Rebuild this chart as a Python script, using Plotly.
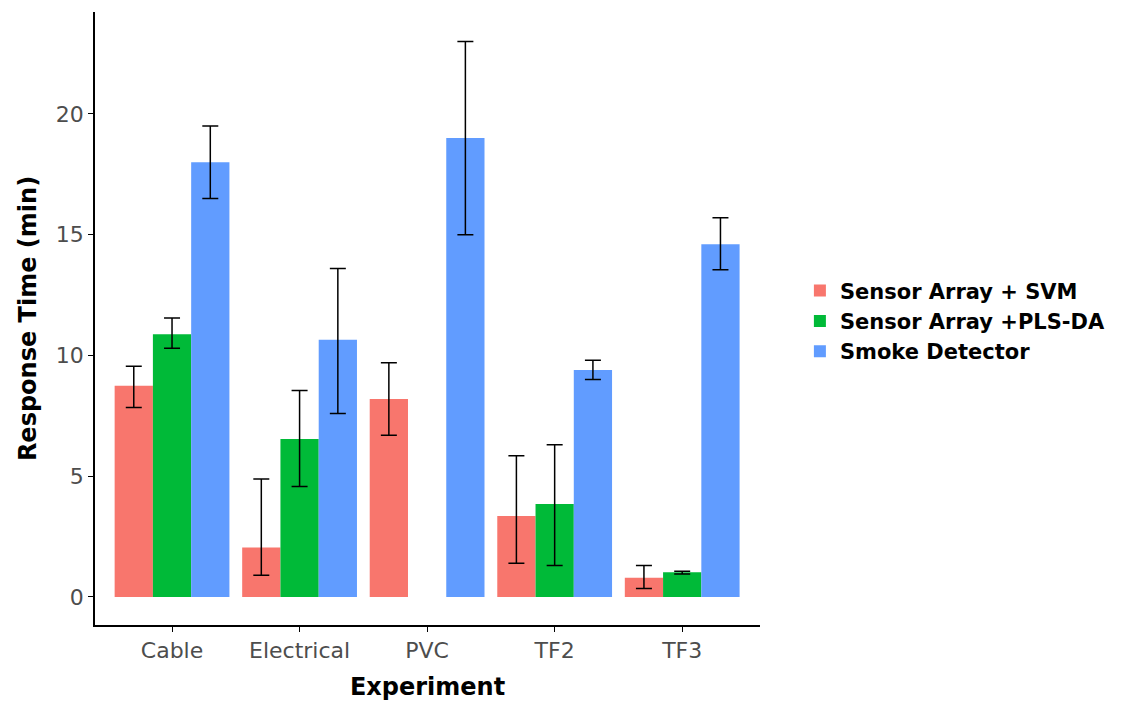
import plotly.graph_objects as go

categories = ["Cable", "Electrical", "PVC", "TF2", "TF3"]

svm_mean = [8.75, 2.05, 8.2, 3.35, 0.8]
svm_lo = [7.85, 0.9, 6.7, 1.4, 0.35]
svm_hi = [9.55, 4.88, 9.7, 5.85, 1.3]

pls_mean = [10.88, 6.54, None, 3.85, 1.02]
pls_lo = [10.3, 4.57, None, 1.3, 0.95]
pls_hi = [11.55, 8.55, None, 6.3, 1.07]

smoke_mean = [18.0, 10.65, 19.0, 9.4, 14.6]
smoke_lo = [16.5, 7.6, 15.0, 9.0, 13.55]
smoke_hi = [19.5, 13.6, 23.0, 9.8, 15.7]

series = [
    ("Sensor Array + SVM", svm_mean, svm_lo, svm_hi, "#F8766D"),
    ("Sensor Array +PLS-DA", pls_mean, pls_lo, pls_hi, "#00BA38"),
    ("Smoke Detector", smoke_mean, smoke_lo, smoke_hi, "#619CFF"),
]

FONT = "DejaVu Sans, Liberation Sans, Arial, sans-serif"

fig = go.Figure()
for name, m, lo, hi, col in series:
    plus = [None if v is None else h - v for v, h in zip(m, hi)]
    minus = [None if v is None else v - l for v, l in zip(m, lo)]
    fig.add_trace(go.Bar(
        x=categories, y=m, name=name, marker=dict(color=col, line=dict(width=0)),
        error_y=dict(type="data", symmetric=False, array=plus, arrayminus=minus,
                     color="black", thickness=1.5, width=8),
    ))

fig.update_layout(
    barmode="group", bargap=0.1, bargroupgap=0,
    width=1123, height=693,
    margin=dict(l=87, r=371, t=4, b=76),
    plot_bgcolor="white", paper_bgcolor="white",
    font=dict(family=FONT, color="black"),
    legend=dict(x=1.06, y=0.496, xanchor="left", yanchor="middle",
                font=dict(size=21, family=FONT, color="black", weight="bold"),
                itemwidth=30, tracegroupgap=0),
    xaxis=dict(
        range=[-0.604, 4.61], showline=True, linecolor="black", linewidth=1.5,
        ticks="outside", ticklen=5, tickcolor="black", showgrid=False,
        tickfont=dict(size=22, color="#4d4d4d"),
        title=dict(text="<b>Experiment</b>", font=dict(size=24, color="black"), standoff=16),
    ),
    yaxis=dict(
        range=[-1.16, 24.22], showline=True, linecolor="black", linewidth=1.5,
        ticks="outside", ticklen=5, tickcolor="black", showgrid=False, zeroline=False,
        tickvals=[0, 5, 10, 15, 20], tickfont=dict(size=22, color="#4d4d4d"),
        title=dict(text="<b>Response Time (min)</b>", font=dict(size=24, color="black"), standoff=12),
    ),
)

fig.write_html("out.html")
